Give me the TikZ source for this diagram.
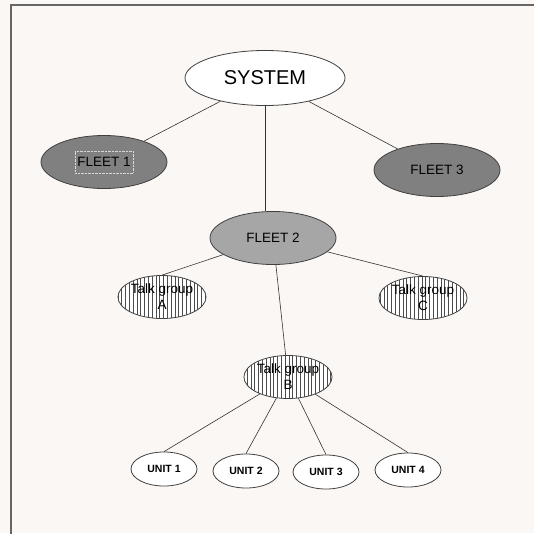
\documentclass[tikz,border=0pt]{standalone}
\usepackage{fontspec}
\setmainfont{Liberation Sans}
\usetikzlibrary{shapes.geometric,patterns.meta}

\begin{document}
\begin{tikzpicture}
      [x=1pt, y=-1pt,
      oval/.style={ellipse, draw=black!75, line width=0.8pt, inner sep=0pt},
      top/.style={oval, fill=white, minimum width=160pt, minimum height=55pt, font=\fontsize{20}{22}\selectfont},
      fleet/.style={oval, minimum width=126pt, minimum height=53pt, font=\fontsize{13.5}{15}\selectfont},
      group/.style={oval, fill=white, minimum width=86pt, minimum height=43pt,
        postaction={pattern={Lines[angle=90,distance=3.8pt,line width=0.6pt]}, pattern color=black!70},
        align=center, font=\fontsize{13.5}{16}\selectfont},
      unit/.style={oval, fill=white, minimum width=66pt, minimum height=34pt, font=\fontsize{10.5}{12}\selectfont\bfseries},
      link/.style={draw=black!80, line width=0.6pt},
      ]
      \useasboundingbox (0,0) rectangle (534,533);
      \fill[white!94!brown] (0,0) rectangle (534,533);
      \draw[black!60, line width=1.2pt] (540,5) -- (11,5) -- (11,540);

      \node[top] (sys) at (265,78) {SYSTEM};
      \node[fleet, fill=black!50] (fleet1) at (104,162) {FLEET 1};
      \node[draw=white!85!black, densely dotted, minimum width=58pt, minimum height=22pt] (f1box) at (fleet1) {};
      \node[fleet, fill=black!35] (fleet2) at (273,238) {FLEET 2};
      \node[fleet, fill=black!50] (fleet3) at (437,170) {FLEET 3};

      \node[group] (tga) at (162,297) {Talk group\\A};
      \node[group] (tgc) at (423,298) {Talk group\\C};
      \node[group] (tgb) at (288,377) {Talk group\\B};

      \node[unit] (u1) at (164,469) {UNIT 1};
      \node[unit] (u2) at (246,471) {UNIT 2};
      \node[unit] (u3) at (326,472) {UNIT 3};
      \node[unit] (u4) at (408,470) {UNIT 4};

      \draw[link] (sys) -- (fleet1);
      \draw[link] (sys.south) -- (fleet2.north -| sys.south);
      \draw[link] (sys) -- (fleet3);
      \draw[link] (fleet2) -- (tga.north);
      \draw[link] (fleet2) -- (tgc.north);
      \draw[link] (fleet2) -- (tgb);
      \foreach \u in {u1,u2,u3,u4}
        \draw[link] (tgb) -- (\u.north);
    \end{tikzpicture}
\end{document}
